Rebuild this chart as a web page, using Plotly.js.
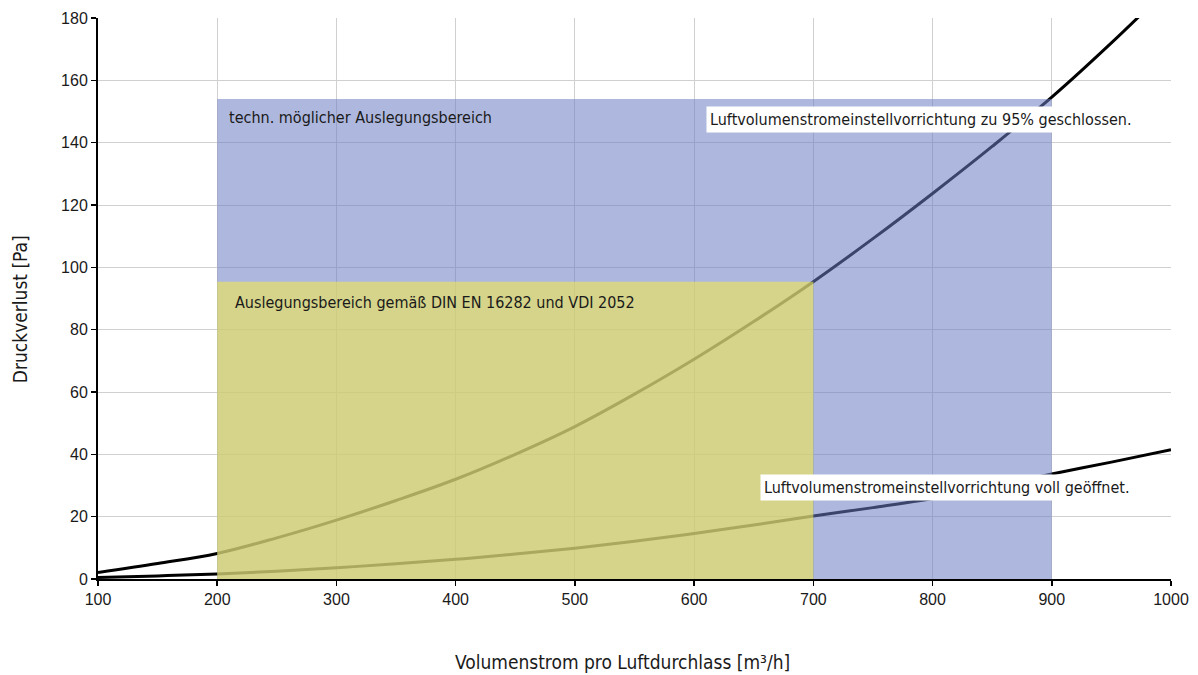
<!DOCTYPE html>
<html>
<head>
<meta charset="utf-8">
<script src="https://cdn.plot.ly/plotly-3.0.1.min.js"></script>
<style>html,body{margin:0;padding:0;background:#fff;}#chart{width:1198px;height:675px;}</style>
</head>
<body>
<div id="chart"></div>
<script>
// Volumenstrom [m³/h]
const volumeFlow = [100,150,200,250,300,350,400,450,500,550,600,650,700,750,800,850,900,950,1000];
// Druckverlust [Pa], Luftvolumenstromeinstellvorrichtung zu 95% geschlossen
const pressureClosed = [2.1,5.0,8.2,13.2,18.9,25.2,32.0,40.0,48.9,59.3,70.5,82.6,95.4,109.2,123.7,138.8,154.6,172.0,190.5];
// Druckverlust [Pa], Luftvolumenstromeinstellvorrichtung voll geöffnet
const pressureOpen = [0.5,1.0,1.6,2.5,3.6,4.9,6.3,8.0,9.9,12.1,14.6,17.3,20.2,22.9,25.8,29.6,33.7,37.5,41.5];

// Bereiche [x0, x1, yTop]
const rangeTechnical = [200, 900, 154];
const rangeStandard = [200, 700, 95.4];

const labelTechnical = "techn. möglicher Auslegungsbereich";
const labelStandard = "Auslegungsbereich gemäß DIN EN 16282 und VDI 2052";
const labelClosed = "Luftvolumenstromeinstellvorrichtung zu 95% geschlossen.";
const labelOpen = "Luftvolumenstromeinstellvorrichtung voll geöffnet.";
const xTitle = "Volumenstrom pro Luftdurchlass [m³/h]";
const yTitle = "Druckverlust [Pa]";

const xTicks = [100,200,300,400,500,600,700,800,900,1000];
const yTicks = [0,20,40,60,80,100,120,140,160,180];

const narrow = "DejaVu Sans Condensed, sans-serif";
const regular = "Liberation Sans, Arial, sans-serif";
const textColor = "#1a1a1a";

const traces = [
  {x: volumeFlow, y: pressureClosed, mode: "lines", line: {color: "#000", width: 3, shape: "spline", smoothing: 1}, hoverinfo: "skip"},
  {x: volumeFlow, y: pressureOpen, mode: "lines", line: {color: "#000", width: 3, shape: "spline", smoothing: 1}, hoverinfo: "skip"}
];

const layout = {
  width: 1198, height: 675,
  margin: {l: 98, r: 27, t: 18, b: 96, pad: 0},
  paper_bgcolor: "#fff", plot_bgcolor: "#fff",
  showlegend: false,
  font: {family: regular, size: 16, color: textColor},
  xaxis: {
    range: [100, 1000], tickvals: xTicks, ticktext: xTicks.map(String),
    showgrid: true, gridcolor: "#d0d0d0", gridwidth: 1, zeroline: false,
    showline: true, linecolor: "#000", linewidth: 2,
    ticks: "outside", ticklen: 5, tickwidth: 1.5, tickcolor: "#000",
    tickfont: {family: regular, size: 16, color: textColor}, fixedrange: true
  },
  yaxis: {
    range: [0, 180], tickvals: yTicks, ticktext: yTicks.map(String),
    showgrid: true, gridcolor: "#d0d0d0", gridwidth: 1, zeroline: false,
    showline: true, linecolor: "#000", linewidth: 2,
    ticks: "outside", ticklen: 5, tickwidth: 1.5, tickcolor: "#000",
    tickfont: {family: regular, size: 16, color: textColor}, fixedrange: true
  },
  shapes: [
    {type: "rect", layer: "above", xref: "x", yref: "y", x0: rangeTechnical[0], x1: rangeTechnical[1], y0: 0, y1: rangeTechnical[2],
     fillcolor: "rgb(108,126,195)", opacity: 0.55, line: {width: 0}},
    {type: "rect", layer: "above", xref: "x", yref: "y", x0: rangeStandard[0], x1: rangeStandard[1], y0: 0, y1: rangeStandard[2],
     fillcolor: "rgb(237,229,87)", opacity: 0.62, line: {width: 0}}
  ],
  annotations: [
    {text: labelTechnical, xref: "x", yref: "y", x: 208.2, y: 148.2, xanchor: "left", yanchor: "middle", showarrow: false,
     font: {family: narrow, size: 16, color: textColor}},
    {text: labelStandard, xref: "x", yref: "y", x: 213.2, y: 88.7, xanchor: "left", yanchor: "middle", showarrow: false,
     font: {family: narrow, size: 16, color: textColor}},
    {text: labelClosed, xref: "x", yref: "y", x: 610, y: 147.3, xanchor: "left", yanchor: "middle", showarrow: false,
     bgcolor: "#fff", borderpad: 3, font: {family: narrow, size: 16, color: textColor}},
    {text: labelOpen, xref: "x", yref: "y", x: 655.3, y: 29.2, xanchor: "left", yanchor: "middle", showarrow: false,
     bgcolor: "#fff", borderpad: 3, font: {family: narrow, size: 16, color: textColor}},
    {text: xTitle, xref: "paper", yref: "paper", x: 0.4888, y: -0.148,
     xanchor: "center", yanchor: "middle", showarrow: false, font: {family: narrow, size: 19, color: textColor}},
    {text: yTitle, xref: "paper", yref: "paper", x: -0.0727, y: 0.481, textangle: -90,
     xanchor: "center", yanchor: "middle", showarrow: false, font: {family: narrow, size: 19, color: textColor}}
  ]
};

Plotly.newPlot("chart", traces, layout, {staticPlot: true, displayModeBar: false});
</script>
</body>
</html>
